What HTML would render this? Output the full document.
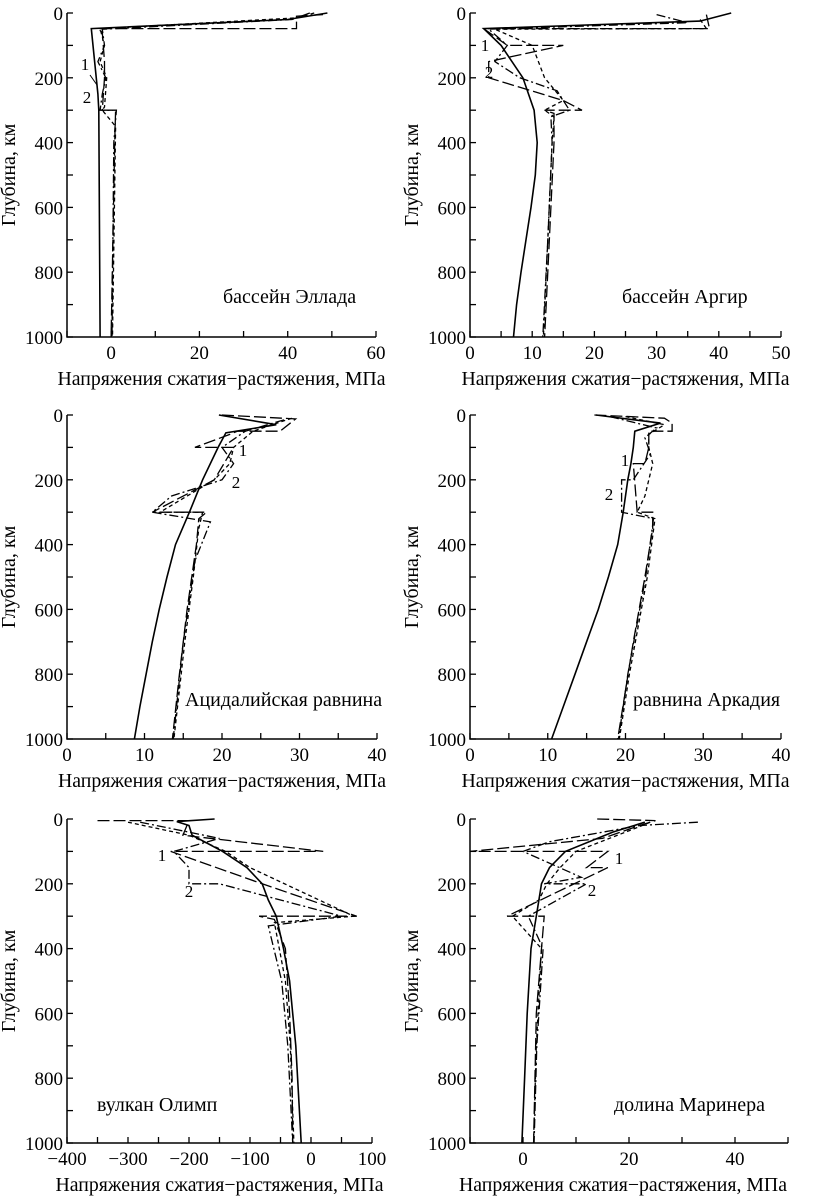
<!DOCTYPE html>
<html><head><meta charset="utf-8">
<style>
html,body{margin:0;padding:0;background:#fff;}
svg{display:block;font-family:"Liberation Serif","DejaVu Serif",serif;}
</style></head>
<body>
<svg id="fig" width="822" height="1200" viewBox="0 0 822 1200"></svg>
<script>
// ---- Panel 1: бассейн Эллада ----
const p1SolidDepth = [0, 20, 48, 250, 300, 1000];
const p1SolidVal   = [49, 40, -4.5, -3, -2.8, -2.5];
const p1LongDepth  = [5, 10, 48, 48, 60, 150, 200, 300, 300, 400, 1000];
const p1LongVal    = [48, 42, 42, -3, -2, -1.5, -1.5, -2, 1, 0.8, 0];
const p1ShortDepth = [0, 15, 48, 100, 150, 200, 290, 300, 350, 1000];
const p1ShortVal   = [46, 42, -2.5, -1.5, -2.5, -1, -1.5, -2, 1, 0.3];
const p1DotDepth   = [0, 20, 50, 100, 150, 200, 250, 300, 300, 400, 1000];
const p1DotVal     = [45, 41, -2, -1.5, -3, -1.2, -2, -2.5, 1.2, 0.6, 0.2];
// ---- Panel 2: бассейн Аргир ----
const p2SolidDepth = [0, 25, 48, 100, 200, 300, 400, 500, 600, 700, 800, 900, 1000];
const p2SolidVal   = [42, 37, 2.2, 5, 8.5, 10.3, 10.8, 10.5, 9.8, 9, 8.2, 7.5, 7];
const p2LongDepth  = [5, 48, 48, 100, 100, 150, 200, 270, 300, 300, 310, 400, 600, 800, 1000];
const p2LongVal    = [38, 38.5, 2.2, 6, 15, 3, 3, 15, 18, 12, 13.5, 13.5, 13, 12.5, 12];
const p2ShortDepth = [20, 48, 50, 100, 200, 270, 300, 320, 400, 700, 1000];
const p2ShortVal   = [37, 38, 4, 10, 12, 15, 12, 13.5, 13.2, 12.5, 11.8];
const p2DotDepth   = [5, 30, 50, 100, 150, 200, 240, 300, 320, 400, 700, 1000];
const p2DotVal     = [30, 35, 3, 6, 4, 8, 14, 16, 13, 13.2, 12.5, 11.7];
// ---- Panel 3: Ацидалийская равнина ----
const p3SolidDepth = [0, 30, 55, 100, 200, 300, 400, 500, 600, 700, 800, 900, 1000];
const p3SolidVal   = [19.6, 27, 20.5, 19.5, 17.5, 15.8, 14, 12.9, 11.9, 11, 10.2, 9.4, 8.7];
const p3LongDepth  = [0, 12, 50, 50, 60, 100, 100, 200, 300, 300, 320, 400, 600, 800, 1000];
const p3LongVal    = [20, 29.5, 27.5, 22, 21, 16.5, 21.5, 19, 11, 18, 17, 16.7, 15.5, 14.5, 13.6];
const p3ShortDepth = [10, 50, 100, 150, 200, 300, 300, 350, 500, 700, 1000];
const p3ShortVal   = [29, 24, 21.5, 21, 19, 12, 17.5, 17, 16.3, 15.2, 13.8];
const p3DotDepth   = [15, 50, 100, 150, 200, 250, 300, 330, 450, 700, 1000];
const p3DotVal     = [28, 23, 20, 21.5, 20, 13.5, 11, 18.5, 16.5, 15, 13.7];
// ---- Panel 4: равнина Аркадия ----
const p4SolidDepth = [0, 25, 50, 100, 150, 200, 300, 400, 500, 600, 700, 800, 900, 1000];
const p4SolidVal   = [16.2, 24.5, 21.2, 21, 20.7, 20.3, 19.7, 19, 17.8, 16.5, 15, 13.5, 12, 10.5];
const p4LongDepth  = [0, 10, 25, 50, 50, 100, 150, 150, 300, 300, 350, 500, 700, 1000];
const p4LongVal    = [16, 25, 26, 26, 23, 23, 22.5, 21, 21.5, 23.5, 23.5, 22.5, 21, 19];
const p4ShortDepth = [5, 30, 60, 100, 150, 250, 300, 320, 500, 800, 1000];
const p4ShortVal   = [20, 25, 23, 23, 23.5, 22.5, 21.5, 23.8, 22.8, 20.5, 19.2];
const p4DotDepth   = [5, 40, 70, 120, 200, 200, 300, 320, 500, 800, 1000];
const p4DotVal     = [18, 24, 22.5, 23.2, 21, 19.5, 19.5, 23.6, 22.6, 20.3, 19.1];
// ---- Panel 5: вулкан Олимп ----
const p5SolidDepth = [0, 8, 20, 50, 100, 150, 200, 250, 300, 400, 500, 600, 700, 800, 900, 1000];
const p5SolidVal   = [-158, -220, -200, -195, -145, -105, -80, -70, -57, -45, -35, -30, -25, -22, -19, -16];
const p5LongDepth  = [5, 5, 50, 100, 100, 200, 300, 300, 310, 400, 600, 800, 1000];
const p5LongVal    = [-350, -200, -210, 20, -230, -80, 75, -85, -60, -42, -35, -31, -30];
const p5ShortDepth = [10, 50, 100, 150, 300, 320, 500, 700, 1000];
const p5ShortVal   = [-300, -200, -140, -100, 70, -60, -42, -34, -28];
const p5DotDepth   = [10, 60, 100, 150, 200, 200, 300, 330, 500, 700, 1000];
const p5DotVal     = [-280, -150, -225, -200, -200, -150, 50, -70, -48, -38, -30];
// ---- Panel 6: долина Маринера ----
const p6SolidDepth = [10, 40, 100, 150, 200, 300, 400, 600, 800, 1000];
const p6SolidVal   = [23, 17, 8, 5, 3.5, 2.5, 1.5, 0.8, 0.3, -0.2];
const p6LongDepth  = [0, 5, 20, 60, 100, 100, 100, 150, 150, 300, 300, 300, 400, 600, 1000];
const p6LongVal    = [14, 25, 22, 15, -10, 8, 16, 12, 16, -3, 4, 4, 3.5, 2.5, 2];
const p6ShortDepth = [10, 30, 100, 150, 200, 250, 300, 400, 700, 1000];
const p6ShortVal   = [24, 21, 10, 7, 4.5, 3, -2, 3.5, 2.5, 2];
const p6DotDepth   = [10, 20, 70, 100, 180, 200, 200, 300, 400, 700, 1000];
const p6DotVal     = [33, 22, 5, 0, 11, 4, 12, 1, 3.8, 2.6, 2.1];

const panels = [
 {name:'ellada', L:67, R:376, T:13, B:337, x0:-10, x1:60, minor:10, major:20, label:'бассейн Эллада', lx:223, ly:303,
  s:[p1SolidDepth,p1SolidVal,p1LongDepth,p1LongVal,p1ShortDepth,p1ShortVal,p1DotDepth,p1DotVal],
  n1:[85,70], n2:[87,103], leader:[90,75,97,85]},
 {name:'argir', L:470, R:781, T:13, B:337, x0:0, x1:50, minor:5, major:10, label:'бассейн Аргир', lx:622, ly:303,
  s:[p2SolidDepth,p2SolidVal,p2LongDepth,p2LongVal,p2ShortDepth,p2ShortVal,p2DotDepth,p2DotVal],
  n1:[485,51], n2:[489,78]},
 {name:'acidalia', L:67, R:377, T:415, B:739, x0:0, x1:40, minor:5, major:10, label:'Ацидалийская равнина', lx:185, ly:706,
  s:[p3SolidDepth,p3SolidVal,p3LongDepth,p3LongVal,p3ShortDepth,p3ShortVal,p3DotDepth,p3DotVal],
  n1:[243,456], n2:[236,488]},
 {name:'arcadia', L:470, R:781, T:415, B:739, x0:0, x1:40, minor:5, major:10, label:'равнина Аркадия', lx:633, ly:706,
  s:[p4SolidDepth,p4SolidVal,p4LongDepth,p4LongVal,p4ShortDepth,p4ShortVal,p4DotDepth,p4DotVal],
  n1:[625,466], n2:[609,500]},
 {name:'olympus', L:67, R:372, T:819, B:1143, x0:-400, x1:100, minor:50, major:100, label:'вулкан Олимп', lx:97, ly:1111,
  s:[p5SolidDepth,p5SolidVal,p5LongDepth,p5LongVal,p5ShortDepth,p5ShortVal,p5DotDepth,p5DotVal],
  n1:[162,861], n2:[189,897]},
 {name:'marineris', L:470, R:788, T:819, B:1143, x0:-10, x1:50, minor:10, major:20, label:'долина Маринера', lx:614, ly:1111,
  s:[p6SolidDepth,p6SolidVal,p6LongDepth,p6LongVal,p6ShortDepth,p6ShortVal,p6DotDepth,p6DotVal],
  n1:[619,864], n2:[592,896]}
];

const NS='http://www.w3.org/2000/svg';
const svg=document.getElementById('fig');
function mk(tag, attrs, parent){
  const e=document.createElementNS(NS,tag);
  for(const k in attrs) e.setAttribute(k, attrs[k]);
  (parent||svg).appendChild(e); return e;
}
const dashes=[null,'12,4','4,3','9,3,2,3'];
const seriesNames=['solid-curve','long-dash-curve','short-dash-curve','dash-dot-curve'];

panels.forEach(p=>{
  const g=mk('g',{});
  
  
  const xs=v=>p.L+(v-p.x0)/(p.x1-p.x0)*(p.R-p.L);
  const ys=d=>p.T+d/1000*(p.B-p.T);
  // axes
  const ax=mk('path',{d:`M${p.L},${p.T}V${p.B}H${p.R}`,stroke:'#000','stroke-width':1.5,fill:'none'},g);
  
  
  // x ticks
  for(let v=p.x0; v<=p.x1+1e-9; v+=p.minor){
    const x=xs(v);
    const t=mk('line',{x1:x,x2:x,y1:p.B,y2:p.B-6,stroke:'#000','stroke-width':1.3},g);
    
    
    if(Math.abs(v/p.major-Math.round(v/p.major))<1e-9){
      const lab=mk('text',{x:x,y:p.B+22,'font-size':19,'text-anchor':'middle'},g);
      lab.textContent=(v<0?'\u2212'+Math.abs(v):String(v));
      
      
    }
  }
  // y ticks
  for(let d=0; d<=1000; d+=100){
    const y=ys(d);
    const t=mk('line',{x1:p.L,x2:p.L+6,y1:y,y2:y,stroke:'#000','stroke-width':1.3},g);
    
    
    if(d%200===0){
      const lab=mk('text',{x:p.L-4,y:y+7,'font-size':19,'text-anchor':'end'},g);
      lab.textContent=String(d);
      
      
    }
  }
  // axis titles
  const xt=mk('text',{x:(p.L+p.R)/2+ (p.name==='marineris'?-6:0),y:p.B+48,'font-size':20,'text-anchor':'middle',textLength:328,lengthAdjust:'spacingAndGlyphs'},g);
  xt.textContent='Напряжения сжатия\u2212растяжения, МПа';
  
  
  const cx=p.L-52, cy=(p.T+p.B)/2;
  const yt=mk('text',{x:cx,y:cy,'font-size':20,'text-anchor':'middle',transform:`rotate(-90 ${cx} ${cy})`},g);
  yt.textContent='Глубина, км';
  
  
  // series
  for(let i=0;i<4;i++){
    const D=p.s[i*2], V=p.s[i*2+1];
    const pts=D.map((d,k)=>xs(V[k]).toFixed(1)+','+ys(d).toFixed(1)).join(' ');
    const a={points:pts,fill:'none',stroke:'#000','stroke-width':i===0?1.6:1.3};
    if(dashes[i]) a['stroke-dasharray']=dashes[i];
    const pl=mk('polyline',a,g);
    
    
  }
  // region label
  const rl=mk('text',{x:p.lx,y:p.ly,'font-size':20},g);
  rl.textContent=p.label;
  
  
  const c1=mk('text',{x:p.n1[0],y:p.n1[1],'font-size':17,'text-anchor':'middle'},g);
  c1.textContent='1';
  
  
  const c2=mk('text',{x:p.n2[0],y:p.n2[1],'font-size':17,'text-anchor':'middle'},g);
  c2.textContent='2';
  
  
  if(p.leader){
    const l=mk('line',{x1:p.leader[0],y1:p.leader[1],x2:p.leader[2],y2:p.leader[3],stroke:'#000','stroke-width':1},g);
    
    
  }
});
</script>
</body></html>
